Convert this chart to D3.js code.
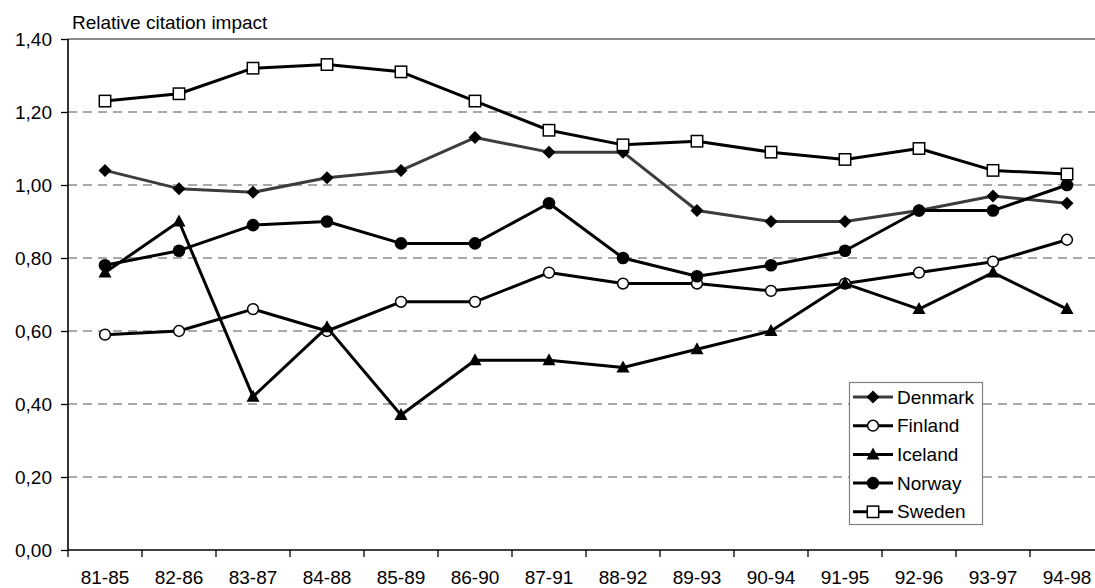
<!DOCTYPE html>
<html>
<head>
<meta charset="utf-8">
<script src="https://cdn.jsdelivr.net/npm/d3@7"></script>
<style>
  html, body { margin: 0; padding: 0; background: #fff; }
  svg { display: block; }
  text { font-family: "Liberation Sans", Arial, sans-serif; font-size: 19px; fill: #000; }
</style>
</head>
<body>
<svg id="chart" width="1095" height="588"></svg>
<script>
const categories = ["81-85","82-86","83-87","84-88","85-89","86-90","87-91","88-92","89-93","90-94","91-95","92-96","93-97","94-98"];
const denmark = [1.04,0.99,0.98,1.02,1.04,1.13,1.09,1.09,0.93,0.90,0.90,0.93,0.97,0.95];
const finland = [0.59,0.60,0.66,0.60,0.68,0.68,0.76,0.73,0.73,0.71,0.73,0.76,0.79,0.85];
const iceland = [0.76,0.90,0.42,0.61,0.37,0.52,0.52,0.50,0.55,0.60,0.73,0.66,0.76,0.66];
const norway  = [0.78,0.82,0.89,0.90,0.84,0.84,0.95,0.80,0.75,0.78,0.82,0.93,0.93,1.00];
const sweden  = [1.23,1.25,1.32,1.33,1.31,1.23,1.15,1.11,1.12,1.09,1.07,1.10,1.04,1.03];
const yTicks = [0,0.2,0.4,0.6,0.8,1.0,1.2,1.4];
const yTitle = "Relative citation impact";

const series = [
  {name:"Denmark", values:denmark, color:"#3c3c3c", marker:"diamond"},
  {name:"Finland", values:finland, color:"#000", marker:"circleOpen"},
  {name:"Iceland", values:iceland, color:"#000", marker:"triangle"},
  {name:"Norway",  values:norway,  color:"#000", marker:"circle"},
  {name:"Sweden",  values:sweden,  color:"#000", marker:"square"}
];

const svg = d3.select("#chart");
const pLeft = 68, pRight = 1104, pTop = 39, pBottom = 550;
const x = d3.scaleBand().domain(categories).range([pLeft, pRight]).paddingInner(0).paddingOuter(0);
const y = d3.scaleLinear().domain([0, 1.4]).range([pBottom, pTop]);
const cx = c => x(c) + x.bandwidth() / 2;
const fmt = v => d3.format(".2f")(v).replace(".", ",");

// gridlines
svg.append("g").selectAll("line").data(yTicks.filter(t => t > 0)).join("line")
  .attr("x1", pLeft).attr("x2", 1095)
  .attr("y1", d => y(d)).attr("y2", d => y(d))
  .attr("stroke", d => d === 1.4 ? "#8a8a8a" : "#555")
  .attr("stroke-width", d => d === 1.4 ? 2 : 1.2)
  .attr("stroke-dasharray", d => d === 1.4 ? null : "9,6");

// y axis
const yAxis = d3.axisLeft(y).tickValues(yTicks).tickFormat(fmt).tickSize(7).tickPadding(9);
const gy = svg.append("g").attr("transform", `translate(${pLeft},0)`).call(yAxis);
gy.select(".domain").attr("stroke", "#000").attr("stroke-width", 1.6).attr("d", `M0,${pTop}V${pBottom}`);
gy.selectAll(".tick line").attr("stroke", "#000").attr("stroke-width", 1.3);
gy.attr("font-family", null).attr("font-size", null);
gy.selectAll(".tick text").attr("dy", "0.35em");

// x axis
const gx = svg.append("g");
gx.append("line").attr("x1", pLeft).attr("x2", 1095).attr("y1", pBottom).attr("y2", pBottom)
  .attr("stroke", "#000").attr("stroke-width", 1.6);
gx.selectAll("line.tk").data(categories).join("line").attr("class", "tk")
  .attr("x1", d => x(d)).attr("x2", d => x(d))
  .attr("y1", pBottom).attr("y2", pBottom + 7)
  .attr("stroke", "#000").attr("stroke-width", 1.3);
gx.selectAll("text").data(categories).join("text")
  .attr("x", d => cx(d)).attr("y", 584)
  .attr("text-anchor", "middle").text(d => d);

// title
svg.append("text").attr("x", 72).attr("y", 29).text(yTitle);

// markers
function drawMarker(g, type, px, py) {
  if (type === "diamond") {
    g.append("path")
      .attr("d", `M${px},${py-6.5}L${px+6.5},${py}L${px},${py+6.5}L${px-6.5},${py}Z`)
      .attr("fill", "#000");
  } else if (type === "circle") {
    g.append("circle").attr("cx", px).attr("cy", py).attr("r", 6.3).attr("fill", "#000");
  } else if (type === "circleOpen") {
    g.append("circle").attr("cx", px).attr("cy", py).attr("r", 5.4)
      .attr("fill", "#fff").attr("stroke", "#000").attr("stroke-width", 1.5);
  } else if (type === "triangle") {
    g.append("path")
      .attr("d", `M${px},${py-7}L${px+6.5},${py+5}L${px-6.5},${py+5}Z`)
      .attr("fill", "#000");
  } else if (type === "square") {
    g.append("rect").attr("x", px-5.7).attr("y", py-5.7).attr("width", 11.4).attr("height", 11.4)
      .attr("fill", "#fff").attr("stroke", "#000").attr("stroke-width", 1.5);
  }
}

const line = d3.line().x((d, i) => cx(categories[i])).y(d => y(d));
series.forEach(s => {
  const g = svg.append("g");
  g.append("path").datum(s.values).attr("d", line)
    .attr("fill", "none").attr("stroke", s.color).attr("stroke-width", 3)
    .attr("stroke-linejoin", "round");
  s.values.forEach((v, i) => drawMarker(g, s.marker, cx(categories[i]), y(v)));
});

// legend
const lg = svg.append("g");
lg.append("rect").attr("x", 849.5).attr("y", 382.5).attr("width", 133).attr("height", 142)
  .attr("fill", "#fff").attr("stroke", "#808080").attr("stroke-width", 1.2);
series.forEach((s, i) => {
  const ly = 397 + i * 28.7;
  lg.append("line").attr("x1", 853).attr("x2", 893).attr("y1", ly).attr("y2", ly)
    .attr("stroke", s.color).attr("stroke-width", 3);
  drawMarker(lg, s.marker, 873, ly);
  lg.append("text").attr("x", 897).attr("y", ly).attr("dy", "0.35em").text(s.name);
});
</script>
</body>
</html>
